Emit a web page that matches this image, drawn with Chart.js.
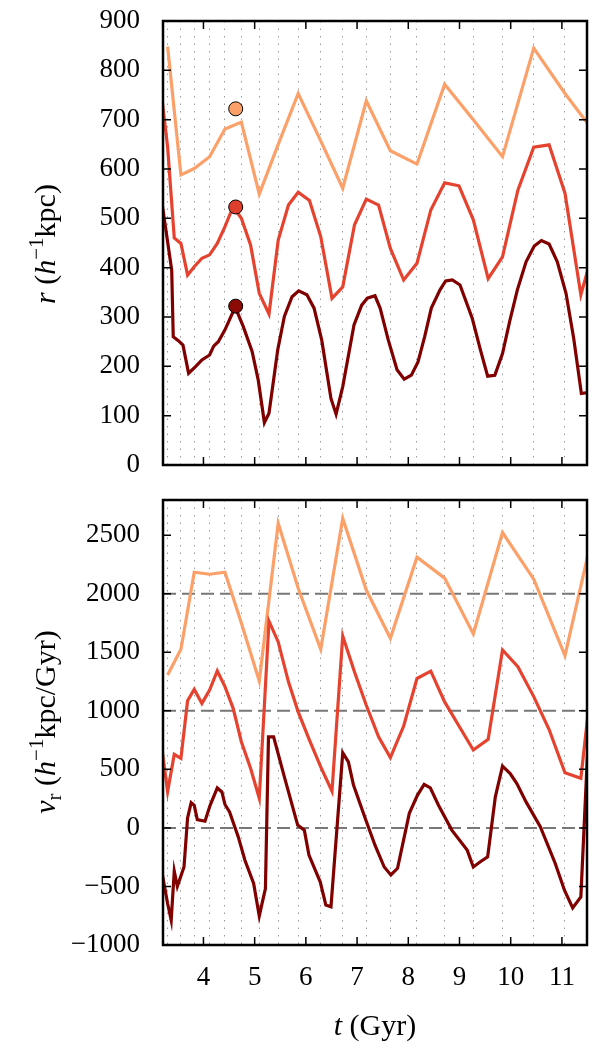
<!DOCTYPE html>
<html>
<head>
<meta charset="utf-8">
<script src="https://cdn.jsdelivr.net/npm/chart.js@4.4.0/dist/chart.umd.min.js"></script>
<style>
  body { margin: 0; background: #fff; }
  #RADIUS { position: absolute; left: 0; top: 0; }
  #VRAD { position: absolute; left: 0; top: 480px; }
</style>
</head>
<body>
<canvas id="RADIUS" width="600" height="480"></canvas>
<canvas id="VRAD" width="600" height="570"></canvas>
<script>
// snapshot times (dotted lines) - coarse run samples every one of them
var snapTimes = [3.30, 3.56, 3.82, 4.12, 4.42, 4.74, 5.09, 5.46, 5.85, 6.29, 6.72, 7.18, 7.65, 8.17, 8.71, 9.27, 9.84, 10.45, 11.06];

// coarse (light orange)
var tLight = [3.30, 3.56, 3.82, 4.12, 4.42, 4.74, 5.09, 5.46, 5.85, 6.29, 6.72, 7.18, 7.65, 8.17, 8.71, 9.27, 9.84, 10.45, 11.06, 11.68];
var rLight = [848, 588, 601, 625, 681, 695, 549, 650, 753, 657, 561, 738, 637, 610, 772, 700, 625, 845, 753, 668];
var vLight = [1306, 1525, 2183, 2166, 2183, 1750, 1254, 2601, 2046, 1525, 2643, 2031, 1620, 2312, 2133, 1656, 2522, 2124, 1471, 2660];

// medium (red)
var tMid = [3.17, 3.30, 3.43, 3.56, 3.69, 3.82, 3.97, 4.12, 4.27, 4.42, 4.58, 4.74, 4.92, 5.09, 5.28, 5.46, 5.66, 5.85, 6.07, 6.29,
            6.51, 6.72, 6.95, 7.18, 7.42, 7.65, 7.91, 8.17, 8.44, 8.71, 8.99, 9.27, 9.56, 9.84, 10.14, 10.45, 10.75, 11.06, 11.37, 11.68];
var rMid = [760, 645, 460, 449, 385, 402, 419, 426, 449, 483, 524, 500, 446, 348, 306, 456, 527, 553, 536, 463,
            338, 361, 487, 539, 527, 439, 375, 409, 517, 572, 566, 497, 378, 422, 557, 644, 649, 551, 345, 460];
var vMid = [740, 310, 628, 594, 1086, 1183, 1063, 1177, 1340, 1206, 1021, 736, 509, 253, 1765, 1588, 1247, 991, 749, 521,
            313, 1639, 1332, 1047, 777, 600, 870, 1276, 1338, 1076, 870, 665, 756, 1519, 1377, 1121, 840, 470, 423, 1650];

// fine (dark red)
var tDarkR = [3.17, 3.38, 3.41, 3.51, 3.60, 3.71, 3.84, 3.97, 4.12, 4.20, 4.29, 4.42, 4.62, 4.78, 4.95, 5.07, 5.19, 5.28, 5.45, 5.58,
              5.73, 5.86, 6.02, 6.16, 6.31, 6.49, 6.59, 6.72, 6.94, 7.09, 7.20, 7.35, 7.45, 7.61, 7.78, 7.92, 8.06, 8.19, 8.32, 8.45,
              8.62, 8.73, 8.86, 9.01, 9.25, 9.41, 9.55, 9.69, 9.84, 9.98, 10.13, 10.30, 10.46, 10.60, 10.75, 10.91, 11.08, 11.23, 11.38, 11.55];
var rDark = [546, 395, 260, 252, 243, 186, 199, 213, 223, 241, 250, 274, 320, 280, 230, 172, 86, 105, 233, 301,
             341, 353, 345, 318, 253, 135, 103, 159, 284, 324, 338, 343, 318, 253, 193, 174, 182, 209, 260, 318,
             355, 373, 375, 365, 297, 233, 180, 182, 226, 291, 355, 412, 444, 455, 448, 412, 348, 257, 145, 148];
var tDarkV = [3.17, 3.30, 3.37, 3.43, 3.49, 3.62, 3.69, 3.76, 3.82, 3.88, 4.03, 4.13, 4.27, 4.36, 4.42, 4.51, 4.68, 4.81, 4.98, 5.09,
              5.21, 5.27, 5.37, 5.58, 5.84, 5.97, 6.06, 6.28, 6.39, 6.49, 6.72, 6.83, 6.93, 7.16, 7.35, 7.53, 7.66, 7.79, 8.02, 8.18,
              8.31, 8.43, 8.59, 8.85, 9.15, 9.27, 9.40, 9.55, 9.70, 9.84, 9.99, 10.12, 10.30, 10.58, 10.87, 11.05, 11.21, 11.37, 11.56];
var vDark = [-330, -646, -788, -370, -499, -334, 85, 216, 193, 71, 57, 193, 341, 307, 200, 137, -77, -276, -475, -752,
             -518, 778, 778, 436, 24, -19, -232, -460, -659, -674, 641, 564, 365, 80, -148, -334, -402, -345, 124, 280,
             371, 342, 194, -19, -190, -334, -291, -248, 265, 527, 464, 379, 222, 9, -304, -532, -683, -589, 1200];

// highlighted snapshot
var markerT = [4.63, 4.63, 4.63];
var markerR = [722, 523, 322];

// ticks
var tTicks = [4, 5, 6, 7, 8, 9, 10, 11];
var rTicks = [0, 100, 200, 300, 400, 500, 600, 700, 800, 900];
var vTicks = [-1000, -500, 0, 500, 1000, 1500, 2000, 2500];
var refLevels = [0, 1000, 2000];
var tRange = [3.21, 11.49];

var lightColor = '#FCA06A';
var midColor = '#E5432F';
var darkColor = '#800000';
var fontFamily = "'Liberation Serif', 'Times New Roman', serif";

Chart.defaults.font.family = fontFamily;
Chart.defaults.font.size = 27;
Chart.defaults.color = '#000';

function pts(ts, vs) {
  return ts.map(function (t, i) { return { x: t, y: vs[i] }; });
}

function lineSet(data, color) {
  return { data: data, borderColor: color, borderWidth: 3.2, pointRadius: 0, tension: 0, fill: false };
}

function numLabel(v) {
  return v < 0 ? '\u2212' + Math.abs(v) : String(v);
}

function setTicks(list) {
  return function (s) { s.ticks = list.map(function (v) { return { value: v }; }); };
}

// ticks pointing inward on all four sides + black frame
var frameTicks = {
  id: 'frameTicks',
  afterDraw: function (chart) {
    var ctx = chart.ctx, a = chart.chartArea;
    var x = chart.scales.x, y = chart.scales.y;
    ctx.save();
    ctx.strokeStyle = '#000';
    ctx.lineWidth = 1.5;
    ctx.beginPath();
    x.ticks.forEach(function (t) {
      var p = x.getPixelForValue(t.value);
      ctx.moveTo(p, a.top); ctx.lineTo(p, a.top + 8);
      ctx.moveTo(p, a.bottom); ctx.lineTo(p, a.bottom - 8);
    });
    y.ticks.forEach(function (t) {
      var p = y.getPixelForValue(t.value);
      ctx.moveTo(a.left, p); ctx.lineTo(a.left + 8, p);
      ctx.moveTo(a.right, p); ctx.lineTo(a.right - 8, p);
    });
    ctx.stroke();
    ctx.lineWidth = 2.5;
    ctx.strokeRect(a.left, a.top, a.right - a.left, a.bottom - a.top);
    ctx.restore();
  }
};

// dashed horizontal reference lines (velocity panel)
var refLines = {
  id: 'refLines',
  beforeDatasetsDraw: function (chart, args, opts) {
    if (!opts.levels) return;
    var ctx = chart.ctx, a = chart.chartArea, y = chart.scales.y;
    ctx.save();
    ctx.strokeStyle = '#777';
    ctx.lineWidth = 2;
    ctx.setLineDash([13, 6]);
    opts.levels.forEach(function (v) {
      var p = y.getPixelForValue(v);
      ctx.beginPath(); ctx.moveTo(a.left, p); ctx.lineTo(a.right, p); ctx.stroke();
    });
    ctx.restore();
  }
};

// axis titles with italic / super- / subscript pieces
function drawParts(ctx, parts, cx, cy, vertical) {
  ctx.save();
  ctx.translate(cx, cy);
  if (vertical) ctx.rotate(-Math.PI / 2);
  var total = 0;
  parts.forEach(function (p) {
    ctx.font = (p.i ? 'italic ' : '') + (p.s || 30) + 'px ' + fontFamily;
    p.w = ctx.measureText(p.t).width;
    total += p.w;
  });
  var x = -total / 2;
  ctx.fillStyle = '#000';
  ctx.textBaseline = 'alphabetic';
  parts.forEach(function (p) {
    ctx.font = (p.i ? 'italic ' : '') + (p.s || 30) + 'px ' + fontFamily;
    ctx.fillText(p.t, x, 10 + (p.dy || 0));
    x += p.w;
  });
  ctx.restore();
}

var axisTitles = {
  id: 'axisTitles',
  afterDraw: function (chart, args, opts) {
    (opts.items || []).forEach(function (it) {
      drawParts(chart.ctx, it.parts, it.x, it.y, it.vertical);
    });
  }
};

function xAxes(showLabels, height) {
  return {
    x: {
      type: 'linear', position: 'bottom', min: tRange[0], max: tRange[1],
      grid: { display: false, drawTicks: false },
      border: { display: false },
      ticks: { display: showLabels, padding: 17, maxRotation: 0, autoSkip: false, callback: numLabel },
      afterBuildTicks: setTicks(tTicks),
      afterFit: function (s) { s.height = height; s.paddingLeft = 0; s.paddingRight = 0; }
    },
    xs: {
      type: 'linear', position: 'bottom', min: tRange[0], max: tRange[1],
      grid: { color: '#9a9a9a', lineWidth: 1, drawTicks: false },
      border: { display: false, dash: [1.5, 6] },
      ticks: { display: false },
      afterBuildTicks: setTicks(snapTimes),
      afterFit: function (s) { s.height = 0; s.paddingLeft = 0; s.paddingRight = 0; }
    }
  };
}

function yAxis(min, max, list) {
  return {
    type: 'linear', min: min, max: max,
    grid: { display: false, drawTicks: false },
    border: { display: false },
    ticks: { padding: 23, autoSkip: false, callback: numLabel },
    afterBuildTicks: setTicks(list),
    afterFit: function (s) { s.width = 163; s.paddingTop = 0; s.paddingBottom = 0; }
  };
}

var markerSet = {
  data: pts(markerT, markerR), showLine: false, order: -1,
  pointRadius: 7, pointBorderWidth: 1, pointBorderColor: '#000',
  pointBackgroundColor: [lightColor, '#DE3E2C', '#8B0A05']
};

var topScales = xAxes(false, 0);
topScales.y = yAxis(0, 900, rTicks);

var topChart = new Chart(document.getElementById('RADIUS').getContext('2d'), {
  type: 'line',
  data: {
    datasets: [
      markerSet,
      lineSet(pts(tDarkR, rDark), darkColor),
      lineSet(pts(tMid, rMid), midColor),
      lineSet(pts(tLight, rLight), lightColor)
    ]
  },
  options: {
    responsive: false,
    animation: false,
    layout: { padding: { left: 0, right: 13, top: 21, bottom: 15 } },
    scales: topScales,
    plugins: {
      legend: { display: false },
      tooltip: { enabled: false },
      axisTitles: { items: [{ x: 45, y: 244, vertical: true, parts: [
        { t: 'r', i: 1 }, { t: ' (' }, { t: 'h', i: 1 }, { t: '\u22121', s: 21, dy: -12 }, { t: 'kpc)' }
      ] }] }
    }
  },
  plugins: [frameTicks, axisTitles]
});

var botScales = xAxes(true, 105);
botScales.y = yAxis(-1000, 2800, vTicks);

var botChart = new Chart(document.getElementById('VRAD').getContext('2d'), {
  type: 'line',
  data: {
    datasets: [
      lineSet(pts(tDarkV, vDark), darkColor),
      lineSet(pts(tMid, vMid), midColor),
      lineSet(pts(tLight, vLight), lightColor)
    ]
  },
  options: {
    responsive: false,
    animation: false,
    layout: { padding: { left: 0, right: 13, top: 20, bottom: 0 } },
    scales: botScales,
    plugins: {
      legend: { display: false },
      tooltip: { enabled: false },
      refLines: { levels: refLevels },
      axisTitles: { items: [
        { x: 45, y: 242, vertical: true, parts: [
          { t: 'v', i: 1 }, { t: 'r', s: 21, dy: 6 }, { t: ' (' }, { t: 'h', i: 1 }, { t: '\u22121', s: 21, dy: -12 }, { t: 'kpc/Gyr)' }
        ] },
        { x: 375, y: 545, vertical: false, parts: [{ t: 't', i: 1 }, { t: ' (Gyr)' }] }
      ] }
    }
  },
  plugins: [frameTicks, refLines, axisTitles]
});
</script>
</body>
</html>
